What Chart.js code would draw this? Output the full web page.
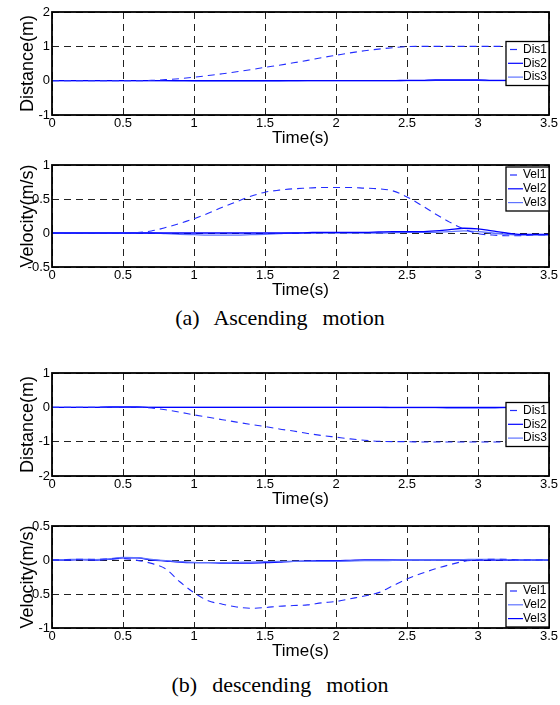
<!DOCTYPE html>
<html>
<head>
<meta charset="utf-8">
<script src="https://cdn.jsdelivr.net/npm/chart.js@4.4.1/dist/chart.umd.min.js"></script>
<style>
  body { margin: 0; background: #fff; }
  #page { position: relative; width: 560px; height: 705px; }
  canvas { position: absolute; left: 0; }
  .cap { position: absolute; left: 0; width: 560px; text-align: center; white-space: pre;
         font-family: 'Liberation Serif', 'Times New Roman', serif; font-size: 22px; line-height: 26px;
         word-spacing: 2px; }
</style>
</head>
<body>
<div id="page">
  <canvas id="c1" width="560" height="149" style="top:0px"></canvas>
  <canvas id="c2" width="560" height="148" style="top:153px"></canvas>
  <div class="cap" style="top:305px">(a)  Ascending  motion</div>
  <canvas id="c3" width="560" height="149" style="top:361px"></canvas>
  <canvas id="c4" width="560" height="148" style="top:514px"></canvas>
  <div class="cap" style="top:672px">(b)  descending  motion</div>
</div>
<script>
// sample times (s)
var timeS = [0,0.1,0.2,0.3,0.4,0.5,0.6,0.7,0.8,0.9,1.0,1.1,1.2,1.3,1.4,1.5,1.6,1.7,1.8,1.9,
             2.0,2.1,2.2,2.3,2.4,2.5,2.6,2.7,2.8,2.9,3.0,3.1,3.2,3.3,3.4,3.5];

// (a) ascending
var upDis1 = [0,0,0,0,0,0,0,0.01,0.03,0.06, 0.10,0.15,0.20,0.26,0.32,0.39,0.45,0.52,0.59,0.67,
              0.74,0.81,0.87,0.92,0.96,0.99,1.0,1.0,1.0,1.0, 1.0,1.0,1.0,1.0,1.0,1.0];
var upDis2 = [0,0,0,0,0,0,0,0,0,0, 0,0,0,0,0,0,0,0,0,0,
              0,0,0,0,0,0.01,0.01,0.02,0.02,0.02, 0.02,0.01,0.01,0.01,0.01,0.01];
var upDis3 = [0,0,0,0,0,0,0,0,0,-0.005, -0.01,-0.01,-0.01,-0.01,-0.01,-0.01,-0.01,-0.005,0,0,
              0,0,0,0,0,0,0,0.01,0.01,0.01, 0.01,0,0,0,0,0];
var upVel1 = [0,0,0,0,0,0,0.005,0.03,0.08,0.14, 0.21,0.29,0.38,0.46,0.54,0.60,0.63,0.65,0.66,0.67,
              0.67,0.67,0.66,0.65,0.62,0.53,0.41,0.28,0.16,0.06, -0.01,-0.03,-0.04,-0.04,-0.03,-0.03];
var upVel2 = [0,0,0,0,0,0,0,0,0,0, 0,0,0,0,0,0,0,0,0.005,0.01,
              0.01,0.01,0.01,0.015,0.02,0.02,0.02,0.03,0.05,0.07, 0.06,0.03,0,-0.02,-0.02,-0.02];
var upVel3 = [0,0,0,0,0,0,0,0,-0.01,-0.02, -0.025,-0.03,-0.03,-0.03,-0.025,-0.02,-0.01,0,0,0,
              0,0,0,0,0.005,0.01,0.01,0.01,0.02,0.03, 0.02,0,-0.02,-0.03,-0.03,-0.03];

// (b) descending
var downDis1 = [0,0,0,0,0,0,0,-0.02,-0.07,-0.14, -0.22,-0.29,-0.36,-0.43,-0.50,-0.56,-0.63,-0.69,-0.76,-0.82,
                -0.87,-0.92,-0.96,-0.99,-1.0,-1.0,-1.01,-1.01,-1.01,-1.01, -1.01,-1.01,-1.01,-1.01,-1.01,-1.01];
var downDis2 = [0,0,0,0,0.01,0.01,0.01,0,0,0, 0,0,0,0,0,0,0,0,0,0,
                0,0,0,0,0,0,0,0,0,0, 0,0,0,0,0,0];
var downDis3 = [0,0,0,0,0,0,0,0,0,0, 0,0,0,0,0,0,0,0,0,0,
                0,0,0,0,-0.01,-0.01,-0.01,-0.01,-0.02,-0.02, -0.02,-0.02,-0.01,-0.01,-0.01,-0.01];
var downVel1 = [0,0.005,0.01,0.01,0.015,0.02,-0.005,-0.05,-0.13,-0.32, -0.48,-0.60,-0.65,-0.69,-0.71,-0.70,-0.68,-0.67,-0.66,-0.63,
                -0.61,-0.57,-0.53,-0.48,-0.38,-0.28,-0.20,-0.13,-0.07,-0.02, 0,0.01,0.01,0,0,0];
var downVel2 = [0,0.005,0.01,0.005,0.015,0.04,0.035,0.01,-0.01,-0.025, -0.035,-0.04,-0.04,-0.035,-0.03,-0.025,-0.02,-0.02,-0.02,-0.02,
                -0.02,-0.015,-0.01,-0.01,-0.005,0,0,0,0,0.005, 0.01,0.01,0.005,0,0,0];
var downVel3 = [0,0,0.005,0,0.01,0.03,0.03,0,-0.015,-0.03, -0.04,-0.04,-0.045,-0.045,-0.045,-0.04,-0.03,-0.02,-0.015,-0.01,
                -0.01,-0.005,0,0,0,0,0,0,0,0, 0,0,0,0,0,0];

var dark = 'rgb(0,0,255)', mid = 'rgb(35,45,255)', light = 'rgb(95,115,255)';
var sans = "'Liberation Sans', Arial, sans-serif";

function line(label, values, color, dashed) {
  return {
    label: label,
    data: values.map(function(v, i) { return {x: timeS[i], y: v}; }),
    borderColor: color,
    borderWidth: dashed ? 1.1 : 1.3,
    borderDash: dashed ? [7, 5] : [],
    pointRadius: 0,
    fill: false,
    cubicInterpolationMode: 'monotone'
  };
}

// frame around the plot + small boxed legend inside it (matlab style)
var boxLegend = {
  id: 'boxLegend',
  afterDraw: function(chart) {
    var o = chart.options.plugins.boxLegend;
    var a = chart.chartArea, ctx = chart.ctx;
    ctx.save();
    ctx.setLineDash([]);
    ctx.strokeStyle = '#000';
    ctx.lineWidth = 1.8;
    ctx.strokeRect(a.left, a.top, a.right - a.left, a.bottom - a.top);

    var w = 43, h = 44;
    var x = a.right - w, y;
    if (o.place === 'ne') y = a.top + 2;
    else if (o.place === 'se') y = a.bottom - h - 1;
    else y = (a.top + a.bottom) / 2 - h / 2;
    ctx.fillStyle = '#fff';
    ctx.fillRect(x, y, w, h);
    ctx.lineWidth = 1.3;
    ctx.strokeRect(x, y, w, h);

    ctx.font = '12px ' + sans;
    ctx.textBaseline = 'middle';
    ctx.textAlign = 'left';
    chart.data.datasets.forEach(function(ds, i) {
      var ry = y + 8 + i * 13.8;
      ctx.strokeStyle = ds.borderColor;
      ctx.lineWidth = 1.2;
      ctx.beginPath();
      if (ds.borderDash.length) { ctx.moveTo(x + 4, ry); ctx.lineTo(x + 11, ry); }
      else { ctx.moveTo(x + 2, ry); ctx.lineTo(x + 17, ry); }
      ctx.stroke();
      ctx.fillStyle = '#000';
      ctx.fillText(ds.label, x + 17, ry);
    });
    ctx.restore();
  }
};

function makeChart(id, yTitle, yMin, yMax, yStep, sets, place) {
  new Chart(document.getElementById(id), {
    type: 'line',
    data: { datasets: sets },
    plugins: [boxLegend],
    options: {
      responsive: false,
      animation: false,
      layout: { padding: { top: 12, left: 0, right: 11, bottom: 0 } },
      plugins: { legend: { display: false }, tooltip: { enabled: false }, boxLegend: { place: place } },
      scales: {
        x: {
          type: 'linear', min: 0, max: 3.5,
          ticks: { stepSize: 0.5, padding: 1, maxRotation: 0, autoSkip: false, color: '#000',
                   font: { family: sans, size: 13 }, callback: function(v) { return String(v); } },
          grid: { color: '#222', lineWidth: 1, drawTicks: false },
          border: { display: false, dash: [7, 5] },
          title: { display: true, text: 'Time(s)', color: '#000', font: { family: sans, size: 17 },
                   padding: { top: 0, bottom: 0 } },
          afterFit: function(s) { s.height = 34; }
        },
        y: {
          min: yMin, max: yMax,
          ticks: { stepSize: yStep, padding: 2, color: '#000',
                   font: { family: sans, size: 13 }, callback: function(v) { return String(v); } },
          grid: { color: '#222', lineWidth: 1, drawTicks: false },
          border: { display: false, dash: [7, 5] },
          title: { display: true, text: yTitle, color: '#000', font: { family: sans, size: 18 },
                   padding: { top: 17, bottom: 0 } },
          afterFit: function(s) { s.width = 52; }
        }
      }
    }
  });
}

makeChart('c1', 'Distance(m)', -1, 2, 1, [
  line('Dis1', upDis1, mid, true),
  line('Dis2', upDis2, dark, false),
  line('Dis3', upDis3, light, false)
], 'e');
makeChart('c2', 'Velocity(m/s)', -0.5, 1, 0.5, [
  line('Vel1', upVel1, mid, true),
  line('Vel2', upVel2, dark, false),
  line('Vel3', upVel3, light, false)
], 'ne');
makeChart('c3', 'Distance(m)', -2, 1, 1, [
  line('Dis1', downDis1, mid, true),
  line('Dis2', downDis2, dark, false),
  line('Dis3', downDis3, light, false)
], 'e');
makeChart('c4', 'Velocity(m/s)', -1, 0.5, 0.5, [
  line('Vel1', downVel1, mid, true),
  line('Vel2', downVel2, light, false),
  line('Vel3', downVel3, dark, false)
], 'se');
</script>
</body>
</html>
